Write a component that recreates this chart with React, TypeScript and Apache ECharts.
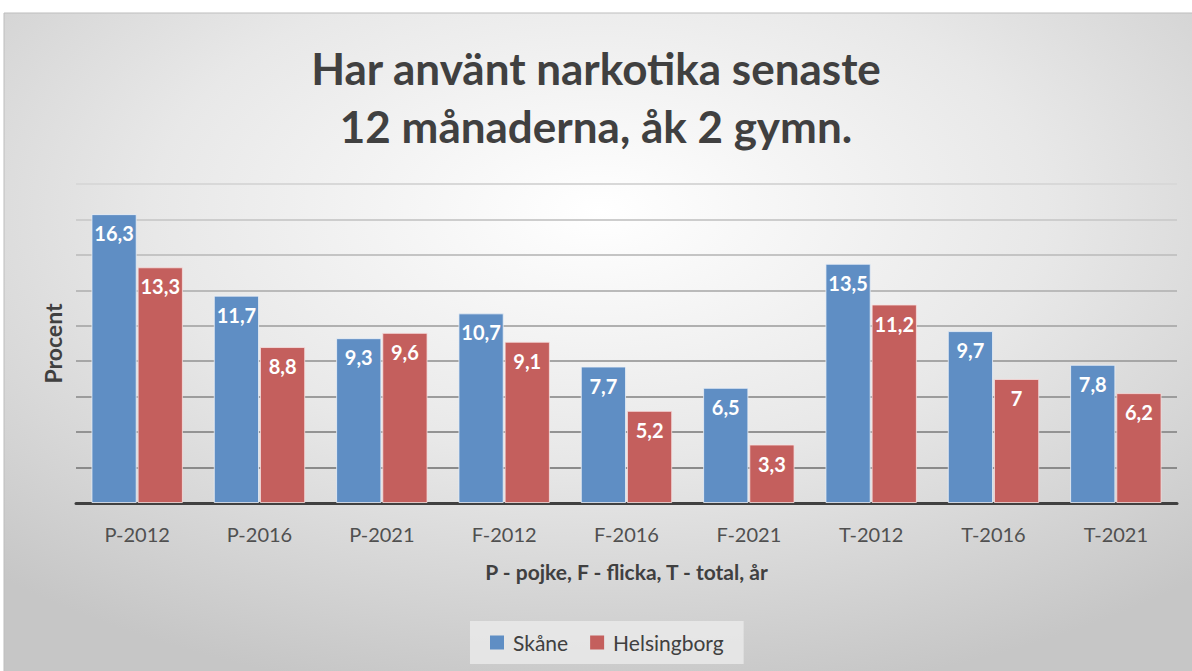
import React, { useEffect, useRef } from "react";
import * as echarts from "echarts";

const categories = ["P-2012", "P-2016", "P-2021", "F-2012", "F-2016", "F-2021", "T-2012", "T-2016", "T-2021"];
const skane = [16.3, 11.7, 9.3, 10.7, 7.7, 6.5, 13.5, 9.7, 7.8];
const helsingborg = [13.3, 8.8, 9.6, 9.1, 5.2, 3.3, 11.2, 7, 6.2];
const seriesNames = ["Skåne", "Helsingborg"];
const titleText = "Har använt narkotika senaste\n12 månaderna, åk 2 gymn.";
const xAxisName = "P - pojke, F - flicka, T - total, år";
const yAxisName = "Procent";

const FONT = "Lato, 'Open Sans', sans-serif";

export default function App() {
  const ref = useRef<HTMLDivElement>(null);
  useEffect(() => {
    if (!ref.current) return;
    const chart = echarts.init(ref.current, null, { renderer: "svg" });
    const label = {
      show: true,
      position: "insideTop",
      distance: 9,
      color: "#ffffff",
      fontFamily: FONT,
      fontWeight: "bold",
      fontSize: 20,
      formatter: (p: any) => String(p.value).replace(".", ","),
    };
    chart.setOption({
      animation: false,
      textStyle: { fontFamily: FONT },
      graphic: [
        {
          type: "rect",
          silent: true,
          z: -10,
          shape: { x: 4, y: 13, width: 1192, height: 660 },
          style: {
            fill: new echarts.graphic.RadialGradient(0.5, 0.3, 0.75, [
              { offset: 0, color: "#ffffff" },
              { offset: 0.5, color: "#e8e8e8" },
              { offset: 1, color: "#c6c6c6" },
            ]),
            stroke: "#bdbdbd",
            lineWidth: 1,
          },
        },
      ],
      title: {
        text: titleText,
        left: "center",
        top: 34,
        textStyle: {
          fontFamily: FONT,
          fontWeight: "bold",
          fontSize: 44,
          lineHeight: 58,
          color: "#404040",
        },
      },
      legend: {
        bottom: 7,
        left: 470,
        icon: "rect",
        itemWidth: 14,
        itemHeight: 14,
        itemGap: 22,
        itemStyle: { borderWidth: 0 },
        padding: [11, 20],
        backgroundColor: "rgba(232,232,232,0.9)",
        textStyle: { fontFamily: FONT, fontSize: 21, color: "#404040", padding: [0, 0, 0, 4] },
        data: seriesNames,
      },
      grid: { left: 76, right: 15, top: 184, bottom: 168, containLabel: false },
      xAxis: {
        type: "category",
        data: categories,
        name: xAxisName,
        nameLocation: "middle",
        nameGap: 58,
        nameTextStyle: { fontFamily: FONT, fontWeight: "bold", fontSize: 21, color: "#404040" },
        axisLine: { lineStyle: { color: "#404040", width: 3 } },
        axisTick: { show: false },
        axisLabel: { fontFamily: FONT, fontSize: 20, color: "#505050", margin: 21 },
      },
      yAxis: {
        type: "value",
        min: 0,
        max: 18,
        interval: 2,
        name: yAxisName,
        nameLocation: "middle",
        nameGap: 12,
        nameTextStyle: { fontFamily: FONT, fontWeight: "bold", fontSize: 23, color: "#404040" },
        axisLabel: { show: false },
        axisLine: { show: false },
        axisTick: { show: false },
        splitLine: {
          lineStyle: {
            width: 2,
            color: [
              "#404040",
              "#8a8a8a",
              "#939393",
              "#9c9c9c",
              "#a6a6a6",
              "#b0b0b0",
              "#bababa",
              "#c4c4c4",
              "#cdcdcd",
              "#d8d8d8",
            ],
          },
        },
      },
      series: [
        {
          name: seriesNames[0],
          type: "bar",
          data: skane,
          barWidth: "37%",
          barGap: "2%",
          itemStyle: { color: "#5f8ec4", borderColor: "rgba(235,240,248,0.8)", borderWidth: 1 },
          label,
        },
        {
          name: seriesNames[1],
          type: "bar",
          data: helsingborg,
          barWidth: "37%",
          barGap: "2%",
          itemStyle: { color: "#c45f5d", borderColor: "rgba(248,225,225,0.8)", borderWidth: 1 },
          label,
        },
      ],
    });
    return () => chart.dispose();
  }, []);
  return (
    <div style={{ position: "absolute", left: 0, top: 0, width: 1192, height: 671, background: "#ffffff" }}>
      <div ref={ref} style={{ width: 1192, height: 671 }} />
    </div>
  );
}
